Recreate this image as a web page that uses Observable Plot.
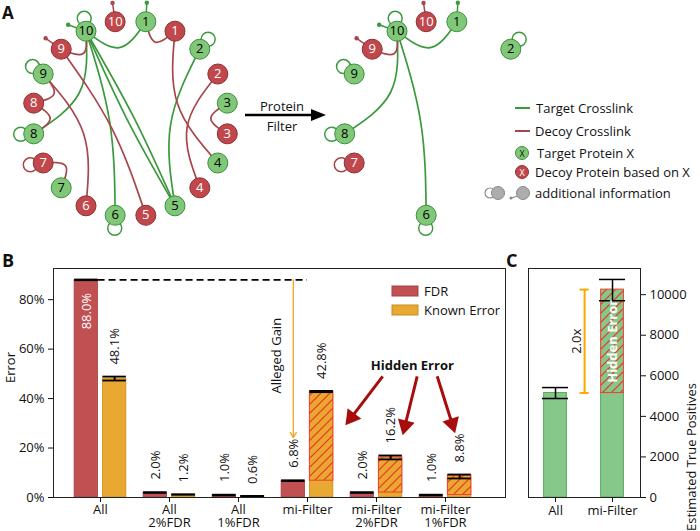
<!DOCTYPE html>
<html>
<head>
<meta charset="utf-8">
<script src="https://cdn.jsdelivr.net/npm/d3@7"></script>
<script src="https://cdn.jsdelivr.net/npm/@observablehq/plot@0.6"></script>
<style>
html,body{margin:0;padding:0;background:#fff;}
body{width:700px;height:531px;position:relative;overflow:hidden;font-family:"Open Sans",sans-serif;}
.layer{position:absolute;}
</style>
</head>
<body>
<svg width="0" height="0" style="position:absolute">
  <defs>
    <pattern id="hatchOrange" patternUnits="userSpaceOnUse" width="9" height="9">
      <rect width="9" height="9" fill="#e8a832"></rect>
      <path d="M-2,2L2,-2M0,9L9,0M7,11L11,7" stroke="#ef3124" stroke-width="1.2"></path>
    </pattern>
    <pattern id="hatchGreen" patternUnits="userSpaceOnUse" width="9" height="9">
      <rect width="9" height="9" fill="#85c889"></rect>
      <path d="M-2,2L2,-2M0,9L9,0M7,11L11,7" stroke="#ef3124" stroke-width="1.2"></path>
    </pattern>
  </defs>
</svg>
<div id="netA" class="layer" style="left:0;top:0"></div>
<div id="netB" class="layer" style="left:311px;top:0"></div>
<div id="barB" class="layer" style="left:0;top:255px"></div>
<div id="barC" class="layer" style="left:515px;top:255px"></div>
<svg id="overlay" class="layer" width="700" height="531" style="left:0;top:0;pointer-events:none;font-family:'Open Sans',sans-serif"></svg>
<script>
// ================= DATA =================
// Panel A: proteins in clockwise ring order (G = target, R = decoy)
const ringOrder = ["R10","G1","R1","G2","R2","G3","R3","G4","R4","G5","R5","G6","R6","G7","R7","G8","R8","G9","R9","G10"];
const crosslinkFrom = ["G10","G10","G10","G10","G10","G2","R9","R1","R1","R2","G3","R9","G9","R8","R8","R7"];
const crosslinkTo   = ["G1","G8","G6","G5","G5","G5","G10","G1","G4","R4","R3","R5","R6","G9","G8","G7"];
const selfLinkProteins = ["G10","G2","G9","G8","R7","G6"];
const selfLinkDirection = [352, 40, 305, 268, 262, 182];
const extraInfoProteins = ["G10","R10","G1","R9"];
const extraInfoDirection = [290, 352, 3, 305];
const afterFilterProteins = ["G10","R10","G1","G2","R9","G9","G8","R7","G6"];

// Panel B: error per group
const groupLabels = ["All","All\n2%FDR","All\n1%FDR","mi-Filter","mi-Filter\n2%FDR","mi-Filter\n1%FDR"];
const fdrValues = [0.880, 0.020, 0.010, 0.068, 0.020, 0.010];
const knownErrorValues = [0.481, 0.012, 0.006, 0.428, 0.162, 0.088];
const knownErrorLow  = [0.473, 0.012, 0.006, 0.426, 0.154, 0.077];
const knownErrorHigh = [0.489, 0.012, 0.006, 0.431, 0.170, 0.093];
const isMiFilter = [0, 0, 0, 1, 1, 1];
const errorTicks = [0, 0.2, 0.4, 0.6, 0.8];

// Panel C: estimated true positives
const tpCategories = ["All", "mi-Filter"];
const tpValidated = [5150, 5150];
const tpEstimated = [5150, 10250];
const tpLow  = [4880, 9700];
const tpHigh = [5420, 10750];
const tpTicks = [0, 2000, 4000, 6000, 8000, 10000];

// ================= STYLE =================
const C = {
  targetLine: "#3c9a3e", decoyLine: "#a8474b",
  targetNode: "#80c878", targetNodeEdge: "#3c8f40",
  decoyNode: "#c0484c", decoyNodeEdge: "#8e3034",
  red: "#c15052", redEdge: "#a44244",
  orange: "#e8a832", orangeEdge: "#c98c1e",
  green: "#85c889", greenEdge: "#58a95d",
  hatchEdge: "#ee4035", arrowRed: "#a80d0d", gain: "#f7a823"
};
const baseStyle = {fontFamily: "Open Sans", fontSize: "13px", overflow: "visible", background: "transparent", color: "#111"};

// ================= PANEL A: networks =================
const PX = 98; // pixels per unit of ring radius
function nodeOf(id) {
  const a = (-9 + 18 * ringOrder.indexOf(id)) * Math.PI / 180;
  return {id, decoy: id[0] === "R", label: id.slice(1), x: Math.sin(a), y: -Math.cos(a)};
}
function offsetFrom(n, deg, px) {
  const a = deg * Math.PI / 180;
  return {x: n.x + Math.sin(a) * px / PX, y: n.y - Math.cos(a) * px / PX};
}
function drawNetwork(keep) {
  const keepSet = new Set(keep);
  const nodes = ringOrder.filter(id => keepSet.has(id)).map(nodeOf);
  const pos = new Map(nodes.map(n => [n.id, n]));
  const links = crosslinkFrom.map((s, k) => ({s, t: crosslinkTo[k]}))
    .filter(l => keepSet.has(l.s) && keepSet.has(l.t));
  const count = new Map(), seen = new Map();
  links.forEach(l => { l.key = [l.s, l.t].sort().join("-"); count.set(l.key, (count.get(l.key) || 0) + 1); });
  const pts = [];
  links.forEach((l, j) => {
    const a = pos.get(l.s), b = pos.get(l.t);
    const n = count.get(l.key), m = seen.get(l.key) || 0; seen.set(l.key, m + 1);
    const mx = (a.x + b.x) / 2, my = (a.y + b.y) / 2;
    const c = Math.hypot(b.x - a.x, b.y - a.y);
    const f = 0.36 * c / (c + 0.35);
    const px = -(b.y - a.y) / c, py = (b.x - a.x) / c;
    const off = (m - (n - 1) / 2) * 0.07;
    const col = (a.decoy || b.decoy) ? C.decoyLine : C.targetLine;
    pts.push({id: j, col, x: a.x, y: a.y},
             {id: j, col, x: mx * (1 - f) + px * off, y: my * (1 - f) + py * off},
             {id: j, col, x: b.x, y: b.y});
  });
  const loops = selfLinkProteins.map((id, k) => ({id, dir: selfLinkDirection[k]}))
    .filter(d => keepSet.has(d.id))
    .map(d => { const n = pos.get(d.id); return {...offsetFrom(n, d.dir, 13), col: n.decoy ? C.decoyLine : C.targetLine}; });
  const sticks = extraInfoProteins.map((id, k) => ({id, dir: extraInfoDirection[k]}))
    .filter(d => keepSet.has(d.id))
    .map(d => { const n = pos.get(d.id); const e = offsetFrom(n, d.dir, 19);
      return {x1: n.x, y1: n.y, x2: e.x, y2: e.y, col: n.decoy ? C.decoyLine : C.targetLine}; });
  return Plot.plot({
    width: 260, height: 240, margin: 0,
    x: {domain: [-130 / PX, 130 / PX], axis: null},
    y: {domain: [-118 / PX, 122 / PX], range: [0, 240], axis: null},
    color: {type: "identity"},
    style: baseStyle,
    marks: [
      Plot.line(pts, {x: "x", y: "y", z: "id", stroke: "col", strokeWidth: 1.7, curve: "natural"}),
      Plot.dot(loops, {x: "x", y: "y", r: 7, stroke: "col", strokeWidth: 1.5, fill: "none"}),
      Plot.link(sticks, {x1: "x1", y1: "y1", x2: "x2", y2: "y2", stroke: "col", strokeWidth: 1.5}),
      Plot.dot(sticks, {x: "x2", y: "y2", r: 2.2, fill: "col"}),
      Plot.dot(nodes, {x: "x", y: "y", r: 10, fill: d => d.decoy ? C.decoyNode : C.targetNode,
        stroke: d => d.decoy ? C.decoyNodeEdge : C.targetNodeEdge, strokeWidth: 1}),
      Plot.text(nodes, {x: "x", y: "y", text: "label", fill: d => d.decoy ? "white" : "black", fontSize: 13})
    ]
  });
}
document.getElementById("netA").append(drawNetwork(ringOrder));
document.getElementById("netB").append(drawNetwork(afterFilterProteins));

// ================= PANEL B: error bars =================
const B = {W: 520, H: 276, ML: 53, MR: 15, MT: 13, MB: 34};
const xDomB = [-0.681, 5.870], yDomB = [0, 0.926];
const sx = Plot.scale({x: {domain: xDomB, range: [B.ML, B.W - B.MR]}});
const sy = Plot.scale({y: {domain: yDomB, range: [B.H - B.MB, B.MT]}});
const bw = 0.34, bg = 0.035;
const rows = groupLabels.map((g, i) => ({i, fdr: fdrValues[i], known: knownErrorValues[i],
  lo: knownErrorLow[i], hi: knownErrorHigh[i], mi: isMiFilter[i] === 1}));
const rX1 = d => d.i - bg - bw, rX2 = d => d.i - bg, rXc = d => d.i - bg - bw / 2;
const oX1 = d => d.i + bg, oX2 = d => d.i + bg + bw, oXc = d => d.i + bg + bw / 2;
const pct = d3.format(".1%");
const miIndex = isMiFilter.indexOf(1);

// annotation: "Hidden Error" label pointing at the filtered groups
const hiddenLabel = [{x: 4.52, y: 0.531, text: "Hidden Error"}];
const hiddenArrows = [
  {x1: 4.09, y1: 0.49, x2: 3.55, y2: 0.292},
  {x1: 4.59, y1: 0.49, x2: 4.38, y2: 0.252},
  {x1: 4.88, y1: 0.49, x2: 5.14, y2: 0.260}
];
const headR = 6.4;
const tipDist = 2 * Math.sqrt(Math.PI * headR * headR / (Math.sqrt(3) * 3));
const heads = hiddenArrows.map(a => {
  const p1 = [sx.apply(a.x1), sy.apply(a.y1)], p2 = [sx.apply(a.x2), sy.apply(a.y2)];
  const L = Math.hypot(p2[0] - p1[0], p2[1] - p1[1]);
  const ux = (p2[0] - p1[0]) / L, uy = (p2[1] - p1[1]) / L;
  return {x1: a.x1, y1: a.y1, x2: sx.invert(p2[0] - ux * tipDist), y2: sy.invert(p2[1] - uy * tipDist),
          rot: Math.atan2(ux, -uy) * 180 / Math.PI};
});

const plotB = Plot.plot({
  width: B.W, height: B.H, marginLeft: B.ML, marginRight: B.MR, marginTop: B.MT, marginBottom: B.MB,
  x: {domain: xDomB}, y: {domain: yDomB},
  style: baseStyle,
  marks: [
    Plot.rect(rows, {x1: rX1, x2: rX2, y1: 0, y2: "fdr", fill: C.red, stroke: C.redEdge, strokeWidth: 0.8}),
    Plot.rect(rows, {x1: oX1, x2: oX2, y1: 0, y2: "known", fill: C.orange, stroke: C.orangeEdge, strokeWidth: 0.8}),
    Plot.rect(rows.filter(d => d.mi), {x1: oX1, x2: oX2, y1: "fdr", y2: "known", fill: "url(#hatchOrange)", stroke: C.hatchEdge, strokeWidth: 1}),
    // error bars
    Plot.ruleY(rows, {y: "fdr", x1: rX1, x2: rX2, stroke: "black", strokeWidth: 2.5}),
    Plot.ruleX(rows.filter(d => d.hi > d.lo), {x: oXc, y1: "lo", y2: "hi", stroke: "black", strokeWidth: 2}),
    Plot.ruleY(rows, {y: "lo", x1: oX1, x2: oX2, stroke: "black", strokeWidth: 1.8}),
    Plot.ruleY(rows, {y: "hi", x1: oX1, x2: oX2, stroke: "black", strokeWidth: 1.8}),
    // value labels
    Plot.text(rows.filter(d => d.fdr < 0.5), {x: rXc, y: "fdr", text: d => pct(d.fdr), rotate: -90, textAnchor: "start", dy: -13}),
    Plot.text(rows.filter(d => d.fdr >= 0.5), {x: rXc, y: "fdr", text: d => pct(d.fdr), rotate: -90, textAnchor: "end", dy: 13, fill: "white"}),
    Plot.text(rows, {x: oXc, y: "hi", text: d => pct(d.known), rotate: -90, textAnchor: "start", dy: -12}),
    // alleged gain
    Plot.ruleY([fdrValues[0]], {x1: -bg, x2: miIndex, stroke: "black", strokeWidth: 1.6, strokeDasharray: "7,4"}),
    Plot.arrow([rows[miIndex]], {x1: rXc, x2: rXc, y1: () => fdrValues[0], y2: "fdr", insetEnd: 43,
      stroke: C.gain, strokeWidth: 1.3, headLength: 7}),
    Plot.text([rows[miIndex]], {x: rXc, y: () => fdrValues[0], text: () => "Alleged Gain", rotate: -90,
      textAnchor: "end", dx: -17, dy: 38}),
    // hidden error annotation
    Plot.link(heads, {x1: "x1", y1: "y1", x2: "x2", y2: "y2", stroke: C.arrowRed, strokeWidth: 3}),
    Plot.dot(heads, {x: "x2", y: "y2", symbol: "triangle", r: headR, fill: C.arrowRed, rotate: "rot"}),
    Plot.text(hiddenLabel, {x: "x", y: "y", text: "text", fontWeight: "bold"}),
    Plot.frame({stroke: "#222"}),
    Plot.axisY({ticks: errorTicks, tickFormat: d3.format(".0%"), tickSize: 5, label: null}),
    Plot.axisX({ticks: d3.range(groupLabels.length), tickFormat: i => groupLabels[i], tickSize: 5, tickPadding: 3, lineHeight: 0.95, label: null}),
    Plot.text(["Error"], {frameAnchor: "left", rotate: -90, dx: -43})
  ]
});
document.getElementById("barB").append(plotB);

// ================= PANEL C: true positives =================
const CC = {W: 185, H: 276, ML: 13, MR: 60, MT: 13, MB: 34};
const tpRows = tpCategories.map((c, i) => ({i, val: tpValidated[i], est: tpEstimated[i], lo: tpLow[i], hi: tpHigh[i]}));
const hw = 0.2, cw = 0.228;
const bracketX = 0.51;
const ratio = tpEstimated[1] / tpEstimated[0];
const plotC = Plot.plot({
  width: CC.W, height: CC.H, marginLeft: CC.ML, marginRight: CC.MR, marginTop: CC.MT, marginBottom: CC.MB,
  x: {domain: [-0.474, 1.491]}, y: {domain: [0, 11290]},
  style: baseStyle,
  marks: [
    Plot.rect(tpRows, {x1: d => d.i - hw, x2: d => d.i + hw, y1: 0, y2: "val", fill: C.green, stroke: C.greenEdge, strokeWidth: 1}),
    Plot.rect(tpRows.filter(d => d.est > d.val), {x1: d => d.i - hw, x2: d => d.i + hw, y1: "val", y2: "est",
      fill: "url(#hatchGreen)", stroke: C.hatchEdge, strokeWidth: 1}),
    Plot.ruleX(tpRows, {x: "i", y1: "lo", y2: "hi", stroke: "black", strokeWidth: 1.5}),
    Plot.ruleY(tpRows, {y: "lo", x1: d => d.i - cw, x2: d => d.i + cw, stroke: "black", strokeWidth: 1.5}),
    Plot.ruleY(tpRows, {y: "hi", x1: d => d.i - cw, x2: d => d.i + cw, stroke: "black", strokeWidth: 1.5}),
    // 2.0x bracket
    Plot.ruleX([bracketX], {y1: tpEstimated[0], y2: tpEstimated[1], stroke: "#ffa500", strokeWidth: 2}),
    Plot.ruleY([tpEstimated[0], tpEstimated[1]], {x1: bracketX - 0.08, x2: bracketX + 0.08, stroke: "#ffa500", strokeWidth: 2}),
    Plot.text([ratio], {x: bracketX, y: (tpEstimated[0] + tpEstimated[1]) / 2, text: d => d.toFixed(1) + "x", rotate: -90, dx: -8}),
    Plot.text(tpRows.filter(d => d.est > d.val), {x: "i", y: d => (d.val + d.est) / 2, text: () => "Hidden Error",
      rotate: -90, fill: "white", fontWeight: "bold"}),
    Plot.frame({stroke: "#222"}),
    Plot.axisY({anchor: "right", ticks: tpTicks, tickFormat: "d", tickSize: 5, label: null}),
    Plot.axisX({ticks: [0, 1], tickFormat: i => tpCategories[i], tickSize: 5, tickPadding: 3, label: null}),
    Plot.text(["Estimated True Positives"], {frameAnchor: "right", rotate: -90, dx: 51})
  ]
});
document.getElementById("barC").append(plotC);

// ================= OVERLAY: panel letters, legends, filter arrow =================
const ov = d3.select("#overlay");
function txt(x, y, s, o = {}) {
  return ov.append("text").attr("x", x).attr("y", y).text(s)
    .attr("font-size", o.size || 13).attr("font-weight", o.weight || "normal")
    .attr("fill", o.fill || "#111").attr("text-anchor", o.anchor || "start")
    .attr("dominant-baseline", o.base || "central");
}
txt(2, 18.5, "A", {size: 17, weight: "bold", base: "auto"});
txt(2, 267, "B", {size: 18, weight: "bold", base: "auto"});
txt(506, 267, "C", {size: 18, weight: "bold", base: "auto"});

// protein filter arrow
ov.append("line").attr("x1", 245).attr("y1", 115).attr("x2", 314).attr("y2", 115).attr("stroke", "black").attr("stroke-width", 2.5);
ov.append("path").attr("d", "M311,109L326,115L311,121Z").attr("fill", "black");
txt(282, 106, "Protein", {anchor: "middle"});
txt(282, 126, "Filter", {anchor: "middle"});

// legend A
ov.append("line").attr("x1", 515).attr("x2", 530).attr("y1", 108).attr("y2", 108).attr("stroke", C.targetLine).attr("stroke-width", 2);
txt(536, 108, "Target Crosslink");
ov.append("line").attr("x1", 515).attr("x2", 530).attr("y1", 131).attr("y2", 131).attr("stroke", C.decoyLine).attr("stroke-width", 2);
txt(535, 131, "Decoy Crosslink");
ov.append("circle").attr("cx", 522).attr("cy", 153).attr("r", 6.5).attr("fill", C.targetNode).attr("stroke", C.targetNodeEdge);
txt(522, 153.5, "X", {size: 9, anchor: "middle"});
txt(537, 153, "Target Protein X");
ov.append("circle").attr("cx", 522).attr("cy", 172).attr("r", 6.5).attr("fill", C.decoyNode).attr("stroke", C.decoyNodeEdge);
txt(522, 172.5, "X", {size: 9, anchor: "middle", fill: "white"});
txt(535, 172, "Decoy Protein based on X");
ov.append("circle").attr("cx", 490).attr("cy", 193).attr("r", 5).attr("fill", "none").attr("stroke", "#8a8a8a").attr("stroke-width", 1.2);
ov.append("circle").attr("cx", 498).attr("cy", 193).attr("r", 6.5).attr("fill", "#adadad").attr("stroke", "#8a8a8a");
ov.append("line").attr("x1", 511).attr("y1", 198).attr("x2", 518).attr("y2", 196).attr("stroke", "#8a8a8a").attr("stroke-width", 1.3);
ov.append("circle").attr("cx", 511).attr("cy", 198).attr("r", 1.6).attr("fill", "#8a8a8a");
ov.append("circle").attr("cx", 523).attr("cy", 193).attr("r", 6.5).attr("fill", "#adadad").attr("stroke", "#8a8a8a");
txt(535, 193, "additional information");

// legend B
ov.append("rect").attr("x", 392).attr("y", 286).attr("width", 26).attr("height", 10).attr("fill", C.red).attr("stroke", C.redEdge);
txt(424, 291, "FDR");
ov.append("rect").attr("x", 392).attr("y", 305).attr("width", 26).attr("height", 10).attr("fill", C.orange).attr("stroke", C.orangeEdge);
txt(424, 310, "Known Error");
</script>
</body>
</html>
